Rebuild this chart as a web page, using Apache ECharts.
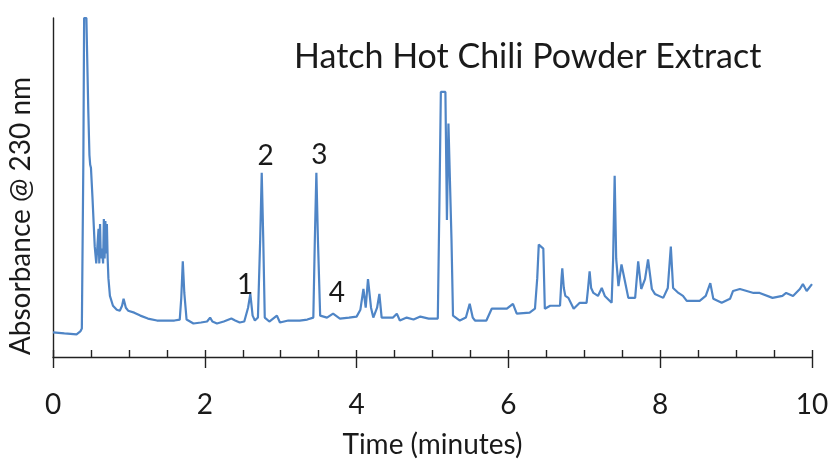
<!DOCTYPE html>
<html>
<head>
<meta charset="utf-8">
<script src="https://cdn.jsdelivr.net/npm/echarts@6/dist/echarts.min.js"></script>
<style>html,body{margin:0;padding:0;background:#fff;}#c{width:834px;height:464px;}</style>
</head>
<body>
<div id="c"></div>
<script>
// Retention time (minutes)
var times = [0.00,0.15,0.31,0.36,0.38,0.40,0.41,0.44,0.45,0.465,0.48,0.49,0.50,0.52,0.55,0.57,
0.58,0.60,0.61,0.62,0.63,0.645,0.66,0.67,0.68,0.69,0.70,0.71,0.72,0.73,0.75,0.79,0.84,0.88,0.91,0.93,0.96,0.99,
1.07,1.15,1.25,1.37,1.50,1.60,1.67,1.69,1.71,1.73,1.76,1.85,1.95,2.03,2.07,2.10,2.16,2.25,2.35,2.40,2.46,2.52,
2.57,2.60,2.63,2.66,2.70,2.73,2.75,2.77,2.79,2.85,2.95,2.99,3.10,3.25,3.35,3.43,3.45,3.47,3.49,3.52,3.61,3.69,
3.78,3.90,4.00,4.05,4.09,4.12,4.15,4.19,4.22,4.27,4.30,4.33,4.40,4.48,4.53,4.57,4.66,4.75,4.84,4.95,5.07,5.09,
5.11,5.17,5.19,5.21,5.23,5.25,5.27,5.36,5.44,5.49,5.53,5.56,5.71,5.78,5.98,6.06,6.11,6.28,6.35,6.38,6.40,6.46,
6.48,6.55,6.68,6.70,6.71,6.73,6.75,6.79,6.86,6.94,7.03,7.05,7.07,7.09,7.12,7.18,7.23,7.27,7.36,7.38,7.40,7.42,
7.45,7.49,7.54,7.58,7.67,7.71,7.75,7.80,7.84,7.89,7.93,8.04,8.10,8.14,8.17,8.24,8.30,8.35,8.52,8.60,8.66,8.70,
8.81,8.92,8.96,9.05,9.23,9.31,9.48,9.61,9.66,9.75,9.84,9.88,9.93,10.00];
// Absorbance (arbitrary units)
var absorbance = [25,24,23,26,29,200,344,344,344,250,205,195,192,162,112,95,
95,130,95,135,100,110,95,140,100,138,105,135,100,80,62,52,48,47,52,59,50,47,
45,42,39,37,37,37,38,60,97,65,38,34,35,36,40,36,34,36,39,37,35,36,
50,64,42,37,40,120,187,120,40,36,42,35,37,37,38,40,120,187,120,42,40,44,
39,40,41,48,69,50,79,50,40,50,64,40,40,40,44,37,40,38,41,39,39,150,
269,269,139,237,235,120,42,37,40,54,40,37,37,49,49,54,44,45,49,80,114,110,
49,52,52,80,90,70,62,60,49,55,55,70,87,70,65,62,70,62,55,100,184,100,
72,94,75,60,60,97,69,79,99,69,64,60,70,112,70,65,62,57,57,62,75,59,
55,59,67,69,65,65,60,62,65,62,69,74,67,74];
// Peak annotations
var peakLabels = ['1','2','3','4'];
var peakTimes = [2.53, 2.80, 3.51, 3.74];
var peakLabelValues = [73, 204, 205, 65];
// X-axis ticks
var xMin = 0, xMax = 10, xInterval = 2;

var FONT = 'Lato';
var TXT = '#1a1a1a';
var seriesData = times.map(function(t,i){return [t, absorbance[i]];});
var labelData = peakTimes.map(function(t,i){return {value:[t, peakLabelValues[i]], name:peakLabels[i]};});

var chart = echarts.init(document.getElementById('c'), null, {renderer:'canvas'});
chart.setOption({
  animation:false,
  backgroundColor:'#fff',
  title:{text:'Hatch Hot Chili Powder Extract', left:289, top:35,
    textStyle:{fontFamily:FONT, fontSize:34, fontWeight:'normal', color:TXT}},
  graphic:[{type:'text', x:21, y:216, rotation:Math.PI/2,
    style:{text:'Absorbance @ 230 nm', font:'28px Lato', fill:TXT, align:'center', verticalAlign:'middle'}}],
  grid:{left:53, right:22, top:18, bottom:102, containLabel:false},
  xAxis:[{type:'value', min:xMin, max:xMax, interval:xInterval,
    name:'Time (minutes)', nameLocation:'middle', nameGap:74,
    nameTextStyle:{fontFamily:FONT, fontSize:28, color:TXT},
    axisLine:{show:true, lineStyle:{color:'#222', width:1.4}},
    axisTick:{show:true, inside:true, length:7, lineStyle:{color:'#222', width:1.4}},
    minorTick:{show:true, splitNumber:4, length:7, lineStyle:{color:'#222', width:1.4}},
    axisLabel:{margin:34, fontFamily:FONT, fontSize:28, color:TXT},
    splitLine:{show:false}, minorSplitLine:{show:false}},
   {type:'value', min:xMin, max:xMax, interval:xInterval, position:'bottom',
    axisLine:{show:false}, axisLabel:{show:false}, splitLine:{show:false},
    axisTick:{show:true, inside:false, length:11, lineStyle:{color:'#222', width:1.4}}}],
  yAxis:{type:'value', min:0, max:344, axisLine:{show:true, onZero:false, lineStyle:{color:'#222', width:1.4}},
    axisTick:{show:false}, axisLabel:{show:false}, splitLine:{show:false}},
  series:[{type:'line', data:seriesData, xAxisIndex:0, showSymbol:false, symbol:'none', clip:true,
    lineStyle:{color:'#4f85c6', width:2.2}},
    {type:'scatter', data:labelData, xAxisIndex:0, symbolSize:1, itemStyle:{color:'#ffffff'},
     label:{show:true, position:'inside', formatter:function(p){return p.name;}, fontFamily:FONT, fontSize:28,
       color:TXT, textBorderWidth:0, opacity:1}}]
});
</script>
</body>
</html>
